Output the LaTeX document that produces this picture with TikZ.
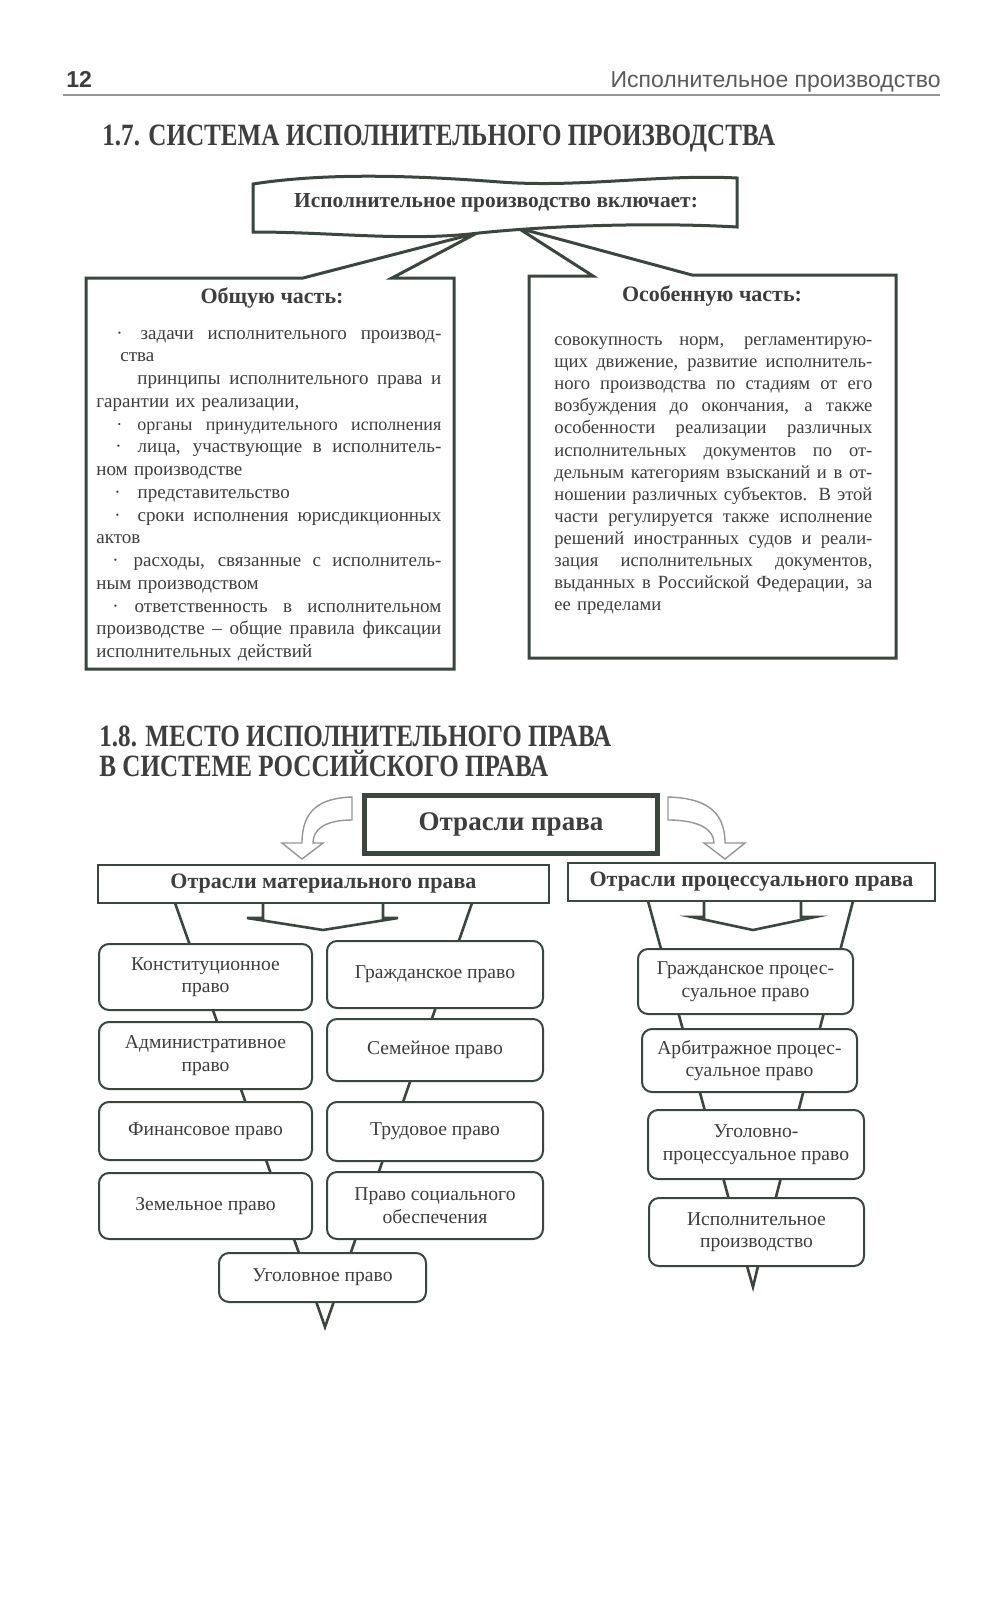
\documentclass[tikz,border=0pt]{standalone}
\usepackage{fontspec}
\setmainfont{Liberation Serif}
\newfontfamily\condserif[FakeStretch=0.81]{Liberation Serif}
\newfontfamily\hsans{Liberation Sans}
\usetikzlibrary{backgrounds}
\definecolor{ink}{RGB}{58,70,62}
\definecolor{txt}{RGB}{62,62,62}
\definecolor{lgray}{RGB}{150,150,150}
\newcommand\jl[1]{{\spaceskip=0pt\xspaceskip=0pt\makebox[\linewidth][s]{#1}}}
\begin{document}
\begin{tikzpicture}[x=0.5pt,y=-0.5pt,
  lawbox/.style={draw=ink, line width=1pt, rounded corners=5pt, fill=white, align=center,
     font=\fontsize{9.8}{11.3}\selectfont, text=txt, inner sep=0pt},
  headbox/.style={draw=ink, line width=0.9pt, fill=white, align=center, inner sep=0pt,
     font=\bfseries\fontsize{11}{13}\selectfont, text=txt},
  calloutline/.style={draw=ink, line width=1.5pt, line join=miter},
  funnel/.style={draw=ink, line width=1.3pt, line join=miter},
  bodytext/.style={anchor=base west, inner sep=0pt, align=left, text=txt},
  titletext/.style={anchor=base west, inner sep=0pt, text=txt, font=\condserif\bfseries\fontsize{15.5}{18}\selectfont}
]
\useasboundingbox (0,0) rectangle (1000,1600);
\begin{pgfonlayer}{background}
\fill[white] (0,0) rectangle (1000,1600);
\end{pgfonlayer}

% page header
\node[anchor=base west, inner sep=0pt, text=txt, font=\hsans\bfseries\fontsize{11.5}{13}\selectfont] (pnum) at (66,88) {12};
\node[anchor=base east, inner sep=0pt, text=txt!85, font=\hsans\fontsize{11.5}{13}\selectfont] (runhead) at (941,88) {Исполнительное производство};
\draw[lgray, line width=0.6pt] (63,95) -- (940,95);

% title 1.7
\node[titletext] (t17) at (102,146) {1.7. СИСТЕМА ИСПОЛНИТЕЛЬНОГО ПРОИЗВОДСТВА};

% callout boxes
\draw[calloutline, fill=white] (86,669) -- (86,278) -- (303,278) -- (477,233) -- (392,278) -- (454,278) -- (454,669) -- cycle;
\draw[calloutline, fill=white] (529,658) -- (529,276) -- (593,276) -- (518,228) -- (692,275) -- (896,275) -- (896,658) -- cycle;

% banner
\draw[calloutline, fill=white] (253,184) .. controls (330,172) and (420,176) .. (500,182)
   .. controls (580,188) and (660,174) .. (737,178) -- (737,227)
   .. controls (650,222) and (540,226) .. (470,234)
   .. controls (400,241) and (330,232) .. (253,232) -- cycle;
\node[inner sep=0pt, text=txt, font=\bfseries\fontsize{10.7}{13}\selectfont] (incl) at (496,203) {Исполнительное производство включает:};

\node[anchor=base, inner sep=0pt, text=txt, font=\bfseries\fontsize{11}{13}\selectfont] (gen) at (272,303) {Общую часть:};
\node[anchor=base, inner sep=0pt, text=txt, font=\bfseries\fontsize{11}{13}\selectfont] (spec) at (712,301) {Особенную часть:};

\node[bodytext, text width=172.5pt, font=\fontsize{9.5}{11.38}\selectfont] (gentext) at (96,339) {%
\jl{\hspace*{10pt}·\hspace*{9pt}задачи исполнительного производ-}\\
\hspace*{12pt}ства\\
\jl{\hspace*{20.5pt}принципы исполнительного права и}\\
гарантии их реализации,\\
\jl{\fontsize{9}{11.38}\selectfont\hspace*{10pt}·\hspace*{7.5pt}органы принудительного исполнения}\\
\jl{\hspace*{9.5pt}·\hspace*{8pt}лица, участвующие в исполнитель-}\\
ном производстве\\
\hspace*{9pt}·\hspace*{8.5pt}представительство\\
\jl{\hspace*{9pt}·\hspace*{8.5pt}сроки исполнения юрисдикционных}\\
актов\\
\jl{\hspace*{8pt}·\hspace*{7.5pt}расходы, связанные с исполнитель-}\\
ным производством\\
\jl{\hspace*{8pt}·\hspace*{8pt}ответственность в исполнительном}\\
\jl{производстве – общие правила фиксации}\\
исполнительных действий};

\node[bodytext, text width=159pt, font=\fontsize{9.3}{11.05}\selectfont] (spectext) at (554,345.5) {%
\jl{совокупность норм, регламентирую-}\\
\jl{щих движение, развитие исполнитель-}\\
\jl{ного производства по стадиям от его}\\
\jl{возбуждения до окончания, а также}\\
\jl{особенности реализации различных}\\
\jl{исполнительных документов по от-}\\
\jl{дельным категориям взысканий и в от-}\\
\jl{ношении различных субъектов. В этой}\\
\jl{части регулируется также исполнение}\\
\jl{решений иностранных судов и реали-}\\
\jl{зация исполнительных документов,}\\
\jl{выданных в Российской Федерации, за}\\
ее пределами};

% title 1.8
\node[titletext] (t18a) at (99,746) {1.8. МЕСТО ИСПОЛНИТЕЛЬНОГО ПРАВА};
\node[titletext] (t18b) at (99,776.5) {В СИСТЕМЕ РОССИЙСКОГО ПРАВА};

% Отрасли права
\node[draw=ink, line width=1.6pt, fill=white, inner sep=0pt, minimum width=147pt, minimum height=29.5pt,
      text=txt, font=\bfseries\fontsize{13.5}{16}\selectfont] (OP) at (511,824.5) {Отрасли права};
\draw[ink, line width=0.6pt] ([shift={(4,4)}]OP.north west) rectangle ([shift={(-4,-4)}]OP.south east);

% hollow curved arrows
\draw[lgray, line width=0.7pt, fill=white] (352,797) .. controls (320,798) and (302,810) .. (302,843)
   -- (282,843) -- (302,859) -- (323,843) -- (313,843) .. controls (313,830) and (324,820) .. (352,820) -- cycle;
\draw[lgray, line width=0.7pt, fill=white] (668,797) .. controls (704,798) and (725,810) .. (725,843)
   -- (745,843) -- (725,859) -- (704,843) -- (714,843) .. controls (714,830) and (700,820) .. (668,820) -- cycle;

% headers
\node[headbox, minimum width=225.5pt, minimum height=19pt] (M) at (323.5,884) {Отрасли материального права};
\node[headbox, minimum width=183.5pt, minimum height=19pt] (Pr) at (751.5,882) {Отрасли процессуального права};

% material boxes
\node[lawbox, minimum width=106.5pt, minimum height=33pt] (A1) at (205.5,977) {Конституционное\\право};
\node[lawbox, minimum width=106.5pt, minimum height=33.5pt] (A2) at (205.5,1055.5) {Административное\\право};
\node[lawbox, minimum width=106.5pt, minimum height=29pt] (A3) at (205.5,1131) {Финансовое право};
\node[lawbox, minimum width=106.5pt, minimum height=33pt] (A4) at (205.5,1206) {Земельное право};
\node[lawbox, minimum width=108pt, minimum height=33.5pt] (B1) at (435,974.5) {Гражданское право};
\node[lawbox, minimum width=108pt, minimum height=31pt] (B2) at (435,1050) {Семейное право};
\node[lawbox, minimum width=108pt, minimum height=29.5pt] (B3) at (435,1131.5) {Трудовое право};
\node[lawbox, minimum width=108pt, minimum height=33.5pt] (B4) at (435,1205.5) {Право социального\\обеспечения};
\node[lawbox, minimum width=103.5pt, minimum height=24.5pt] (U) at (322.5,1277.5) {Уголовное право};

% procedural boxes
\node[lawbox, minimum width=107.5pt, minimum height=32.5pt] (P1) at (745.5,981.5) {Гражданское процес-\\суальное право};
\node[lawbox, minimum width=107.5pt, minimum height=31.5pt] (P2) at (749.5,1060.5) {Арбитражное процес-\\суальное право};
\node[lawbox, minimum width=108pt, minimum height=34.5pt] (P3) at (756,1144.5) {Уголовно-\\процессуальное право};
\node[lawbox, minimum width=107.5pt, minimum height=34pt] (P4) at (756.5,1232) {Исполнительное\\производство};

% funnels (behind boxes)
\coordinate (mL) at (175,903); \coordinate (mR) at (472,903);
\coordinate (mWL) at (317,1304); \coordinate (mWR) at (333,1304); \coordinate (mTip) at (325,1327);
\coordinate (pL) at (648,901); \coordinate (pR) at (853,901);
\coordinate (pWL) at (747,1266); \coordinate (pWR) at (758,1266); \coordinate (pTip) at (753,1287);
\begin{pgfonlayer}{background}
\draw[funnel] (mL) -- (mWL) -- (mTip) -- (mWR) -- (mR);
\draw[funnel] (263,903) -- (263,918) -- (247,918) -- (323,930) -- (398,918) -- (383,918) -- (383,903);
\draw[funnel] (pL) -- (pWL) -- (pTip) -- (pWR) -- (pR);
\draw[funnel] (704,901) -- (704,917) -- (692,917) -- (753,930) -- (815,917) -- (801,917) -- (801,901);
\end{pgfonlayer}
\end{tikzpicture}
\end{document}
